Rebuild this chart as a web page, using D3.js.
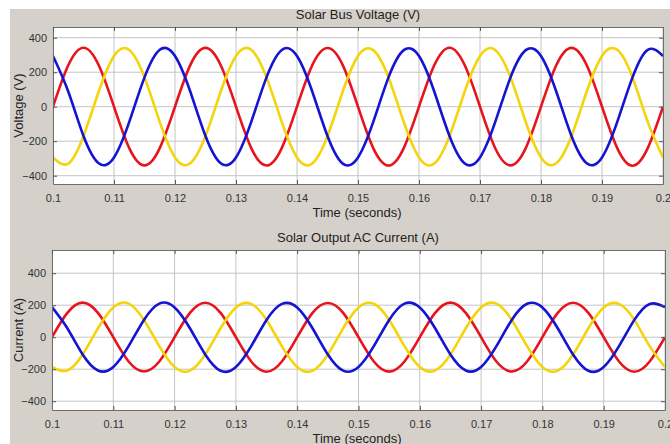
<!DOCTYPE html>
<html>
<head>
<meta charset="utf-8">
<script src="https://cdn.jsdelivr.net/npm/d3@7"></script>
<style>
  body { margin: 0; background: #ffffff; }
  svg { display: block; font-family: "Liberation Sans", Arial, sans-serif; }
</style>
</head>
<body>
<div id="chart"></div>
<script>
// Time samples (seconds), one every 2.5 ms
var time = [0.1,0.1025,0.105,0.1075,0.11,0.1125,0.115,0.1175,0.12,0.1225,0.125,0.1275,0.13,0.1325,0.135,0.1375,0.14,0.1425,0.145,0.1475,0.15,0.1525,0.155,0.1575,0.16,0.1625,0.165,0.1675,0.17,0.1725,0.175,0.1775,0.18,0.1825,0.185,0.1875,0.19,0.1925,0.195,0.1975,0.2]

// Bus voltage, three phases (V)
var voltage_a = [0,240,342,240,0,-240,-340,-240,0,241,341,240,0,-240,-341,-240,0,240,340,241,0,-240,-341,-240,0,240,342,240,0,-241,-340,-240,0,240,341,240,0,-240,-342,-240,0]
var voltage_b = [294,88,-170,-328,-294,-88,170,330,294,88,-170,-328,-294,-88,170,329,294,88,-170,-330,-294,-88,170,328,294,88,-170,-329,-294,-88,170,328,294,88,-170,-328,-294,-88,170,330,294]
var voltage_c = [-294,-330,-170,88,294,329,170,-88,-294,-328,-170,88,294,330,170,-88,-294,-329,-170,88,294,328,170,-88,-294,-330,-170,88,294,329,170,-88,-294,-328,-170,88,294,330,170,-88,-294]

// Output AC current, three phases (A)
var current_a = [0,152,216,152,0,-152,-214,-152,0,152,215,152,0,-152,-216,-152,0,152,214,152,0,-152,-215,-152,0,152,216,152,0,-152,-214,-152,0,152,215,152,0,-152,-216,-152,0]
var current_b = [188,56,-108,-208,-186,-56,108,210,186,56,-108,-210,-186,-56,108,208,186,56,-108,-209,-186,-56,108,210,186,56,-108,-208,-186,-56,108,209,186,56,-108,-210,-186,-56,108,208,188]
var current_c = [-186,-208,-108,56,186,210,108,-56,-186,-209,-108,56,186,208,108,-56,-186,-210,-108,56,186,209,108,-56,-186,-208,-108,56,186,210,108,-56,-186,-209,-108,56,186,208,108,-56,-186]

var x_ticks = [0.1,0.11,0.12,0.13,0.14,0.15,0.16,0.17,0.18,0.19,0.2]
var y_ticks = [-400,-200,0,200,400]

var phase_colors = ["#e8141c", "#f4d40a", "#1414d2"]

var width = 670
var height = 444

var svg = d3.select("#chart")
            .append("svg")
            .attr("width", width)
            .attr("height", height)

// Gray figure background, white strip on top and left
svg.append("rect")
  .attr("x", 10)
  .attr("y", 9)
  .attr("width", width - 10)
  .attr("height", height - 9)
  .attr("fill", "#d5d1ca")

function draw_panel(cfg){
  var xscale = d3.scaleLinear()
                 .domain([0.1, 0.2])
                 .range([cfg.left, cfg.right])

  var yscale = d3.scaleLinear()
                 .domain(cfg.ydomain)
                 .range([cfg.bottom, cfg.top])

  var g = svg.append("g")

  // Plot area
  g.append("rect")
    .attr("x", cfg.left)
    .attr("y", cfg.top)
    .attr("width", cfg.right - cfg.left)
    .attr("height", cfg.bottom - cfg.top)
    .attr("fill", "#ffffff")

  // Grid lines
  g.selectAll(".vgrid")
    .data(x_ticks)
    .enter()
    .append("line")
    .attr("x1", d => xscale(d))
    .attr("x2", d => xscale(d))
    .attr("y1", cfg.top)
    .attr("y2", cfg.bottom)
    .attr("stroke", "#c4c4c4")
    .attr("stroke-width", 1)

  g.selectAll(".hgrid")
    .data(y_ticks)
    .enter()
    .append("line")
    .attr("x1", cfg.left)
    .attr("x2", cfg.right)
    .attr("y1", d => yscale(d))
    .attr("y2", d => yscale(d))
    .attr("stroke", "#c4c4c4")
    .attr("stroke-width", 1)

  // Signal traces
  var line = d3.line()
               .x((d, i) => xscale(time[i]))
               .y(d => yscale(d))
               .curve(d3.curveNatural)

  var clip_id = "clip" + cfg.id
  svg.append("clipPath")
    .attr("id", clip_id)
    .append("rect")
    .attr("x", cfg.left)
    .attr("y", cfg.top)
    .attr("width", cfg.right - cfg.left)
    .attr("height", cfg.bottom - cfg.top)

  g.append("g")
    .attr("clip-path", "url(#" + clip_id + ")")
    .selectAll("path")
    .data(cfg.series)
    .enter()
    .append("path")
    .attr("d", d => line(d))
    .attr("fill", "none")
    .attr("stroke", (d, i) => phase_colors[i])
    .attr("stroke-width", 2.6)
    .attr("stroke-linejoin", "round")

  // Axes: ticks point inwards, box around the plot
  var xaxis = d3.axisBottom(xscale)
                .tickValues(x_ticks)
                .tickSizeInner(-4)
                .tickSizeOuter(0)
                .tickPadding(10)
                .tickFormat(d3.format("~g"))

  var yaxis = d3.axisLeft(yscale)
                .tickValues(y_ticks)
                .tickSizeInner(-4)
                .tickSizeOuter(0)
                .tickPadding(6)

  var xg = g.append("g")
    .attr("transform", "translate(0," + cfg.bottom + ")")
    .call(xaxis)
  var yg = g.append("g")
    .attr("transform", "translate(" + cfg.left + ",0)")
    .call(yaxis)

  g.append("g")
    .attr("transform", "translate(0," + cfg.top + ")")
    .call(d3.axisTop(xscale).tickValues(x_ticks).tickSizeInner(-4).tickSizeOuter(0).tickFormat(""))
  g.append("g")
    .attr("transform", "translate(" + cfg.right + ",0)")
    .call(d3.axisRight(yscale).tickValues(y_ticks).tickSizeInner(-4).tickSizeOuter(0).tickFormat(""))

  g.selectAll(".domain").attr("stroke", "#6e6e6e")
  g.selectAll(".tick line").attr("stroke", "#555555")
  g.selectAll(".tick text")
    .attr("fill", "#333333")
    .style("font-size", "11px")
  g.selectAll("path.domain").attr("stroke-width", 1)

  // Titles
  g.append("text")
    .attr("x", 358)
    .attr("y", cfg.top - 8)
    .attr("text-anchor", "middle")
    .style("font-size", "13px")
    .attr("fill", "#222222")
    .text(cfg.title)

  g.append("text")
    .attr("x", 357)
    .attr("y", cfg.bottom + 33)
    .attr("text-anchor", "middle")
    .style("font-size", "13px")
    .attr("fill", "#222222")
    .text("Time (seconds)")

  g.append("text")
    .attr("transform", "translate(23," + ((cfg.top + cfg.bottom) / 2) + ") rotate(-90)")
    .attr("text-anchor", "middle")
    .style("font-size", "13px")
    .attr("fill", "#222222")
    .text(cfg.ylabel)
}

draw_panel({
  id: "v",
  left: 53, right: 663, top: 27, bottom: 184,
  ydomain: [-448, 462],
  series: [voltage_a, voltage_c, voltage_b],
  title: "Solar Bus Voltage (V)",
  ylabel: "Voltage (V)"
})

draw_panel({
  id: "i",
  left: 52, right: 665, top: 250, bottom: 410,
  ydomain: [-455, 545],
  series: [current_a, current_c, current_b],
  title: "Solar Output AC Current (A)",
  ylabel: "Current (A)"
})
</script>
</body>
</html>
